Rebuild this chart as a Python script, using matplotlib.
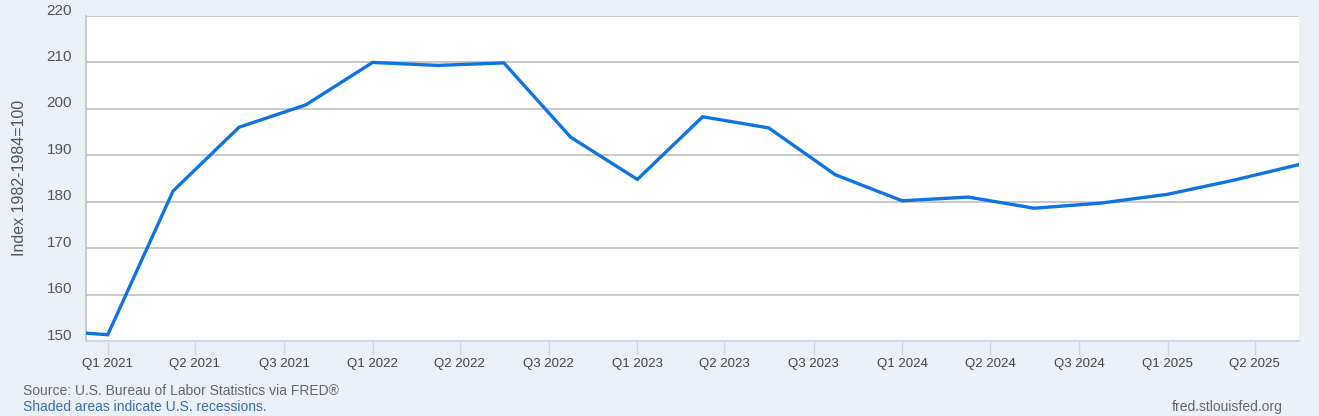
import numpy as np
import pandas as pd
import matplotlib.pyplot as plt
import matplotlib.dates as mdates
import matplotlib.transforms as mtransforms

# quarterly observations (index 1982-1984=100)
dates = pd.to_datetime(['2020-10-01', '2021-01-01', '2021-04-01', '2021-07-01', '2021-10-01',
                        '2022-01-01', '2022-04-01', '2022-07-01', '2022-10-01',
                        '2023-01-01', '2023-04-01', '2023-07-01', '2023-10-01',
                        '2024-01-01', '2024-04-01', '2024-07-01', '2024-10-01',
                        '2025-01-01', '2025-04-01', '2025-07-01'])
values = [152.4, 151.35, 182.3, 196.05, 200.86,
          210.0, 209.36, 209.9, 193.9,
          184.8, 198.3, 195.9, 185.8,
          180.2, 181.0, 178.6, 179.7,
          181.6, 184.6, 188.0]

tick_dates = pd.to_datetime(['2021-01-01', '2021-05-01', '2021-09-01', '2022-01-01', '2022-05-01',
                             '2022-09-01', '2023-01-01', '2023-05-01', '2023-09-01', '2024-01-01',
                             '2024-05-01', '2024-09-01', '2025-01-01', '2025-05-01'])
tick_labels = ['Q1 2021', 'Q2 2021', 'Q3 2021', 'Q1 2022', 'Q2 2022', 'Q3 2022', 'Q1 2023',
               'Q2 2023', 'Q3 2023', 'Q1 2024', 'Q2 2024', 'Q3 2024', 'Q1 2025', 'Q2 2025']
y_ticks = [150, 160, 170, 180, 190, 200, 210, 220]

plt.rcParams['font.family'] = ['Liberation Sans', 'DejaVu Sans']
bg = '#eaf1f9'
W, H = 1319, 416
fig = plt.figure(figsize=(W/100, H/100), dpi=100, facecolor=bg)
ax = fig.add_axes([86/W, 1-341/H, (1299-86)/W, (341-16)/H])
ax.set_facecolor('white')

ax.plot(dates, values, color='#0f74e0', lw=2.4, solid_joinstyle='miter', clip_on=True, zorder=3)

ax.set_xlim(pd.Timestamp('2020-12-02'), pd.Timestamp('2025-07-01'))
ax.set_ylim(150, 220)
ax.set_yticks(y_ticks)
ax.grid(axis='y', color='#c4c4c4', lw=1.3)
ax.set_xticks(tick_dates)
ax.set_xticklabels(tick_labels)
ax.tick_params(axis='x', length=10, width=1, color='#ccd6eb', labelcolor='#444444', labelsize=9.5, pad=2)
ax.tick_params(axis='y', length=0, labelcolor='#555555', labelsize=11, pad=10)

for s in ['top', 'right']:
    ax.spines[s].set_visible(False)
ax.spines['left'].set_color('#c4c4c4')
ax.spines['left'].set_linewidth(1.3)
ax.spines['bottom'].set_color('#ccd6eb')
ax.spines['bottom'].set_linewidth(1.3)

offset = mtransforms.ScaledTranslation(0, 7/100, fig.dpi_scale_trans)
for lab in ax.get_yticklabels():
    lab.set_transform(lab.get_transform() + offset)

fig.text(20/W, 1-178/H, 'Index 1982-1984=100', rotation=90, ha='center', va='center',
         fontsize=11.5, color='#555555')
fig.text(23/W, 1-391/H, 'Source: U.S. Bureau of Labor Statistics via FRED\u00ae', ha='left', va='center',
         fontsize=10, color='#666666')
fig.text(23/W, 1-407/H, 'Shaded areas indicate U.S. recessions.', ha='left', va='center',
         fontsize=10, color='#3b6bb0')
fig.text(1283/W, 1-407/H, 'fred.stlouisfed.org', ha='right', va='center',
         fontsize=10, color='#666666')

fig.savefig('out.png', dpi=100, facecolor=bg)
